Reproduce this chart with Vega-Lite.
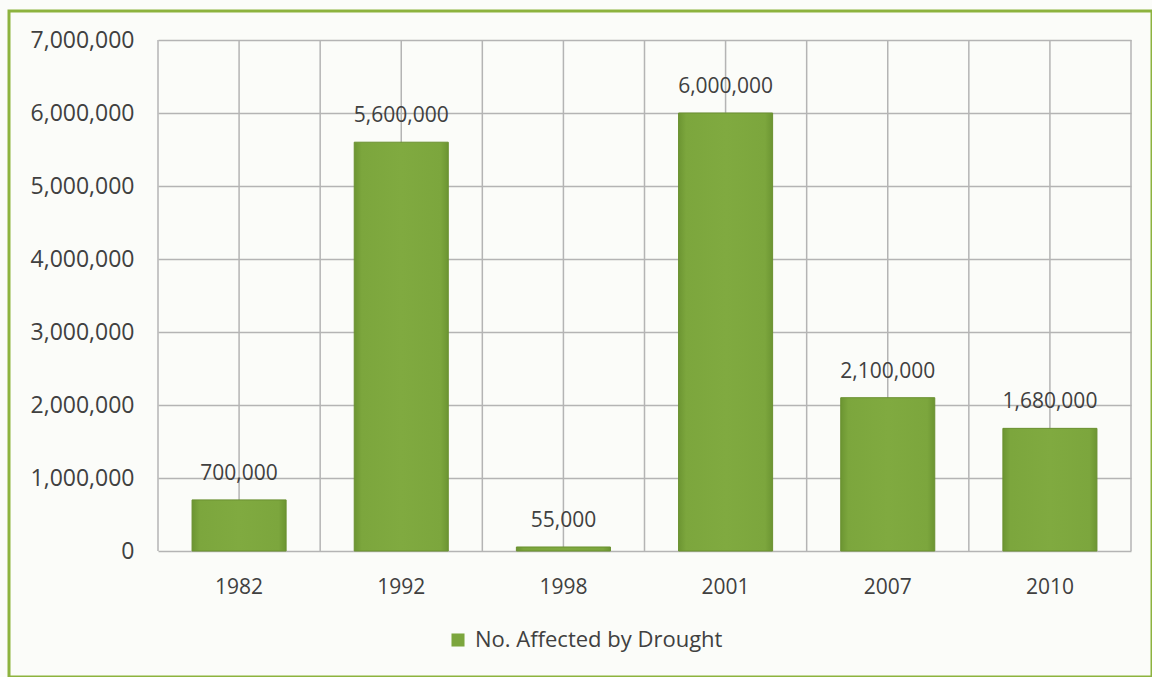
{
  "$schema": "https://vega.github.io/schema/vega-lite/v6.json",
  "autosize": {"type": "none"},
  "width": 1143,
  "height": 666,
  "padding": {"left": 9, "top": 11, "right": 0, "bottom": 0},
  "background": "#fbfcf9",
  "config": {
    "font": "Open Sans",
    "view": {"stroke": "#8db33f", "strokeWidth": 3, "fill": "#fbfcf9"}
  },
  "data": {
    "values": [
      {"Year": "1982", "Affected": 700000},
      {"Year": "1992", "Affected": 5600000},
      {"Year": "1998", "Affected": 55000},
      {"Year": "2001", "Affected": 6000000},
      {"Year": "2007", "Affected": 2100000},
      {"Year": "2010", "Affected": 1680000}
    ]
  },
  "encoding": {
    "x": {
      "field": "Year",
      "type": "ordinal",
      "sort": null,
      "scale": {"range": [149, 1122], "paddingInner": 0, "paddingOuter": 0},
      "axis": {
        "title": null,
        "orient": "bottom",
        "offset": -126,
        "domain": false,
        "ticks": false,
        "grid": false,
        "labelAngle": 0,
        "labelFontSize": 21,
        "labelColor": "#404040",
        "labelPadding": 25
      }
    },
    "y": {
      "field": "Affected",
      "type": "quantitative",
      "scale": {"domain": [0, 7000000], "range": [540, 29], "nice": false},
      "axis": {
        "title": null,
        "orient": "left",
        "offset": -149,
        "values": [0, 1000000, 2000000, 3000000, 4000000, 5000000, 6000000, 7000000],
        "format": ",.0f",
        "domain": false,
        "ticks": false,
        "grid": true,
        "gridColor": "#b4b4b4",
        "gridWidth": 1.5,
        "labelFontSize": 23,
        "labelColor": "#404040",
        "labelPadding": 24
      }
    }
  },
  "layer": [
    {
      "mark": {"type": "rule", "color": "#b4b4b4", "strokeWidth": 1.5},
      "encoding": {
        "x": {"field": "Year", "type": "ordinal", "sort": null, "bandPosition": 0},
        "y": {"datum": 0, "type": "quantitative"},
        "y2": {"datum": 7000000}
      }
    },
    {
      "mark": {"type": "rule", "color": "#b4b4b4", "strokeWidth": 1.5},
      "encoding": {
        "x": {"field": "Year", "type": "ordinal", "sort": null, "bandPosition": 0.5},
        "y": {"datum": 0, "type": "quantitative"},
        "y2": {"datum": 7000000}
      }
    },
    {
      "transform": [{"filter": "datum.Year === '2010'"}],
      "mark": {"type": "rule", "color": "#b4b4b4", "strokeWidth": 1.5},
      "encoding": {
        "x": {"field": "Year", "type": "ordinal", "sort": null, "bandPosition": 1},
        "y": {"datum": 0, "type": "quantitative"},
        "y2": {"datum": 7000000}
      }
    },
    {
      "mark": {
        "type": "bar",
        "width": {"band": 0.58},
        "stroke": "#6a9030",
        "strokeWidth": 1,
        "fill": {
          "gradient": "linear",
          "x1": 0, "y1": 0, "x2": 1, "y2": 0,
          "stops": [
            {"offset": 0, "color": "#6c9532"},
            {"offset": 0.08, "color": "#7ca63d"},
            {"offset": 0.5, "color": "#80aa40"},
            {"offset": 0.92, "color": "#7ca63d"},
            {"offset": 1, "color": "#6c9532"}
          ]
        }
      },
      "encoding": {
        "color": {
          "datum": "No. Affected by Drought",
          "type": "nominal",
          "scale": {"range": ["#7ca63d"]},
          "legend": {
            "title": null,
            "orient": "none",
            "legendX": 438,
            "legendY": 618,
            "padding": 0,
            "symbolType": "square",
            "symbolSize": 170,
            "symbolStrokeWidth": 0,
            "labelFontSize": 22,
            "labelLimit": 400,
            "labelColor": "#404040",
            "labelOffset": 6
          }
        }
      }
    },
    {
      "mark": {
        "type": "text",
        "baseline": "alphabetic",
        "dy": -20,
        "fontSize": 21,
        "color": "#404040"
      },
      "encoding": {
        "text": {"field": "Affected", "type": "quantitative", "format": ","}
      }
    }
  ]
}
